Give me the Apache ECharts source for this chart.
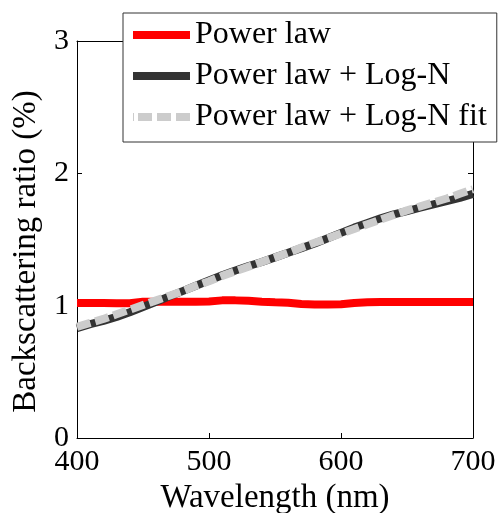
<!DOCTYPE html>
<html>
<head>
<meta charset="utf-8">
<script src="https://cdn.jsdelivr.net/npm/echarts@6/dist/echarts.min.js"></script>
<style>
  html, body { margin: 0; padding: 0; background: #fff; }
  #chart { width: 500px; height: 513px; }
</style>
</head>
<body>
<div id="chart"></div>
<script>
// Wavelength grid (nm)
const wavelengths = [400, 410, 420, 430, 440, 450, 460, 470, 480, 490, 500,
  510, 520, 530, 540, 550, 560, 570, 580, 590, 600,
  610, 620, 630, 640, 650, 660, 670, 680, 690, 700];

// Backscattering ratio (%) for each model
const powerLaw = [1.02, 1.02, 1.02, 1.018, 1.018, 1.03, 1.03, 1.03, 1.03, 1.03, 1.032,
  1.04, 1.04, 1.037, 1.03, 1.025, 1.022, 1.012, 1.008, 1.008, 1.01,
  1.02, 1.025, 1.027, 1.027, 1.027, 1.027, 1.027, 1.027, 1.027, 1.027];
const powerLawLogN = [0.83, 0.86, 0.885, 0.915, 0.95, 0.99, 1.03, 1.07, 1.11, 1.15, 1.19,
  1.23, 1.265, 1.30, 1.33, 1.365, 1.40, 1.435, 1.47, 1.51, 1.55,
  1.59, 1.625, 1.66, 1.69, 1.715, 1.74, 1.765, 1.79, 1.815, 1.845];
const powerLawLogNFit = [0.84, 0.87, 0.90, 0.935, 0.97, 1.005, 1.04, 1.075, 1.11, 1.15, 1.185,
  1.225, 1.26, 1.295, 1.33, 1.365, 1.40, 1.44, 1.475, 1.51, 1.545,
  1.58, 1.615, 1.65, 1.685, 1.72, 1.75, 1.78, 1.81, 1.845, 1.88];

const seriesNames = ['Power law', 'Power law + Log-N', 'Power law + Log-N fit'];

const FONT = '"Liberation Serif", "Times New Roman", serif';
const pairs = (ys) => wavelengths.map((x, i) => [x, ys[i]]);

// Legend swatches: a thick solid bar and a thick dashed bar (57 x 8)
const SOLID_ICON = 'path://M0,0h57v8h-57z';
const DASH_ICON = 'path://M0,0h1v8h-1z M5,0h14v8h-14z M24,0h14v8h-14z M43,0h14v8h-14z';

const chart = echarts.init(document.getElementById('chart'), null, { renderer: 'canvas' });

const axisCommon = {
  axisLine: { show: true, onZero: false, lineStyle: { color: '#000', width: 1 } },
  axisTick: { show: true, inside: true, length: 5, lineStyle: { color: '#000', width: 1 } },
  splitLine: { show: false }
};

chart.setOption({
  animation: false,
  backgroundColor: '#fff',
  grid: { left: 77, right: 27, top: 41, bottom: 75, containLabel: false, outerBoundsMode: 'none' },
  legend: {
    orient: 'vertical',
    left: 123,
    top: 13,
    padding: [6, 10, 9, 10],
    itemGap: 9,
    itemWidth: 57,
    itemHeight: 8,
    backgroundColor: '#fff',
    borderColor: '#333',
    borderWidth: 1,
    borderRadius: 0,
    textStyle: { fontFamily: FONT, fontSize: 32, color: '#000' },
    data: [
      { name: seriesNames[0], icon: SOLID_ICON },
      { name: seriesNames[1], icon: SOLID_ICON },
      { name: seriesNames[2], icon: DASH_ICON }
    ]
  },
  xAxis: [
    Object.assign({}, axisCommon, {
      type: 'value', min: 400, max: 700, interval: 100, position: 'bottom',
      name: 'Wavelength (nm)', nameLocation: 'middle', nameGap: 42,
      nameTextStyle: { fontFamily: FONT, fontSize: 33, color: '#000' },
      axisLabel: { fontFamily: FONT, fontSize: 30, color: '#000', margin: 9 }
    }),
    Object.assign({}, axisCommon, {
      type: 'value', min: 400, max: 700, interval: 100, position: 'top',
      axisLabel: { show: false }
    })
  ],
  yAxis: [
    Object.assign({}, axisCommon, {
      type: 'value', min: 0, max: 3, interval: 1, position: 'left',
      name: 'Backscattering ratio (%)', nameLocation: 'middle', nameGap: 27,
      nameTextStyle: { fontFamily: FONT, fontSize: 33, color: '#000', padding: [0, 24, 0, 0] },
      axisLabel: { fontFamily: FONT, fontSize: 30, color: '#000', margin: 8 }
    }),
    Object.assign({}, axisCommon, {
      type: 'value', min: 0, max: 3, interval: 1, position: 'right',
      axisLabel: { show: false }
    })
  ],
  series: [
    {
      name: seriesNames[0], type: 'line', data: pairs(powerLaw),
      showSymbol: false, symbol: 'none', z: 3,
      lineStyle: { color: '#ff0000', width: 8, cap: 'butt' },
      itemStyle: { color: '#ff0000' }
    },
    {
      name: seriesNames[1], type: 'line', data: pairs(powerLawLogN),
      showSymbol: false, symbol: 'none', z: 4,
      lineStyle: { color: '#333333', width: 8, cap: 'butt' },
      itemStyle: { color: '#333333' }
    },
    {
      name: seriesNames[2], type: 'line', data: pairs(powerLawLogNFit),
      showSymbol: false, symbol: 'none', z: 5,
      lineStyle: { color: '#cccccc', width: 8, type: [14, 5], cap: 'butt' },
      itemStyle: { color: '#cccccc' }
    }
  ]
});
</script>
</body>
</html>
